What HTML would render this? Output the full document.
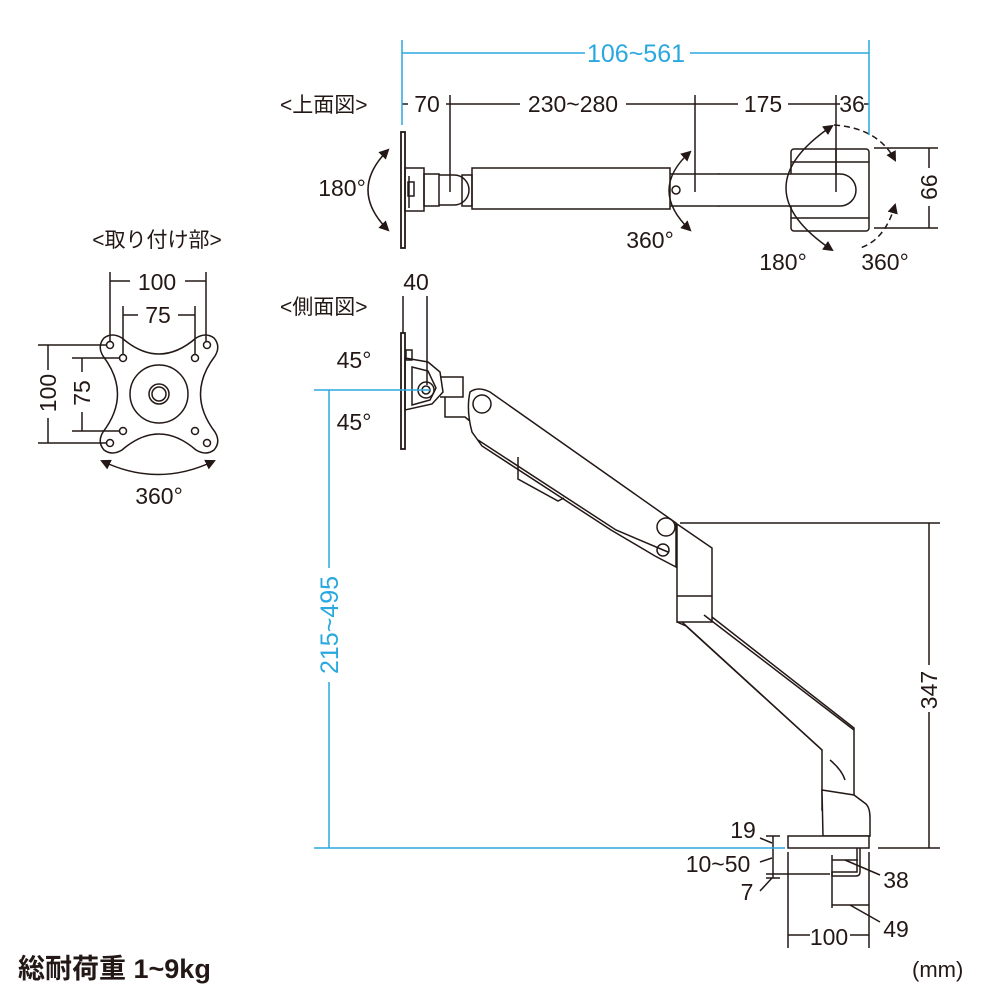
<!DOCTYPE html>
<html><head><meta charset="utf-8"><style>
html,body{margin:0;padding:0;background:#fff}
svg{display:block}
text{font-family:"Liberation Sans","Noto Sans CJK JP",sans-serif;fill:#231815}
.j{font-family:"Liberation Sans","Noto Sans CJK JP",sans-serif}
</style></head><body>
<svg width="1000" height="1000" viewBox="0 0 1000 1000" xmlns="http://www.w3.org/2000/svg">
<defs>
<marker id="a" viewBox="0 0 10 10" refX="8" refY="5" markerWidth="7" markerHeight="7" orient="auto-start-reverse"><path d="M0,0L10,5L0,10z" fill="#231815"/></marker>
</defs>
<g stroke="#231815" stroke-width="1.5" fill="none">
<line x1="402" y1="104" x2="408" y2="104"/><line x1="446" y1="104" x2="520" y2="104"/><line x1="626" y1="104" x2="738" y2="104"/><line x1="788" y1="104" x2="840" y2="104"/><line x1="864" y1="104" x2="869" y2="104"/>
<line x1="450" y1="95" x2="450" y2="192"/><line x1="695" y1="95" x2="695" y2="192"/><line x1="836" y1="95" x2="836" y2="192"/>
<rect x="401" y="132" width="4" height="116" fill="#fff" stroke-width="1.8"/>
<rect x="405" y="168" width="19" height="43"/>
<path d="M409,176 v32" /><rect x="408" y="182" width="6" height="14"/>
<rect x="424" y="174" width="15" height="32"/>
<path d="M439,175 h15 a15,15 0 0 1 0,30 h-15"/>
<rect x="462" y="175" width="10" height="31"/>
<rect x="472" y="168" width="198" height="41"/>
<path d="M670,174 h48 a16,16 0 0 1 0,32 h-48"/>
<rect x="791" y="149" width="78" height="82" rx="3"/>
<line x1="791" y1="162" x2="869" y2="162"/><line x1="791" y1="218" x2="869" y2="218"/>
<path d="M718,174 h122 a16,16 0 0 1 0,32 h-122" fill="#fff"/>
<circle cx="676" cy="190" r="4"/>
<line x1="836" y1="150" x2="836" y2="192"/>
<line x1="874" y1="148" x2="938" y2="148"/><line x1="874" y1="228" x2="938" y2="228"/>
<line x1="929" y1="148" x2="929" y2="168"/><line x1="929" y1="206" x2="929" y2="228"/>
<path d="M388,150 Q348,190 388,230" marker-start="url(#a)" marker-end="url(#a)"/>
<path d="M690,152 Q648,190 690,230" marker-start="url(#a)" marker-end="url(#a)"/>
<path d="M832,126 Q740,188 832,250" marker-start="url(#a)" marker-end="url(#a)"/>
<path d="M834,125 Q878,128 895,160" stroke-dasharray="6,4" marker-end="url(#a)"/>
<path d="M895,205 Q885,240 860,248" stroke-dasharray="6,4" marker-start="url(#a)"/>
<path d="M104,338 Q112,332 122,338 Q159,370 196,338 Q206,332 214,338 Q221,346 215,356 Q186,394 215,432 Q221,442 214,450 Q206,456 196,450 Q159,418 122,450 Q112,456 104,450 Q97,442 103,432 Q132,394 103,356 Q97,346 104,338z"/>
<circle cx="110" cy="345" r="3.5"/><circle cx="207" cy="345" r="3.5"/><circle cx="110" cy="443" r="3.5"/><circle cx="207" cy="443" r="3.5"/>
<circle cx="123" cy="358" r="3.5"/><circle cx="195" cy="358" r="3.5"/><circle cx="123" cy="431" r="3.5"/><circle cx="195" cy="431" r="3.5"/>
<circle cx="159" cy="394" r="29"/><circle cx="159" cy="394" r="10"/><circle cx="159" cy="394" r="7"/>
<line x1="110" y1="272" x2="110" y2="341"/><line x1="206" y1="272" x2="206" y2="341"/>
<line x1="110" y1="281" x2="130" y2="281"/><line x1="185" y1="281" x2="206" y2="281"/>
<line x1="123" y1="306" x2="123" y2="354"/><line x1="195" y1="306" x2="195" y2="354"/>
<line x1="123" y1="315" x2="138" y2="315"/><line x1="178" y1="315" x2="195" y2="315"/>
<line x1="38" y1="345" x2="106" y2="345"/><line x1="38" y1="443" x2="106" y2="443"/>
<line x1="48" y1="345" x2="48" y2="370"/><line x1="48" y1="418" x2="48" y2="443"/>
<line x1="72" y1="358" x2="119" y2="358"/><line x1="72" y1="431" x2="119" y2="431"/>
<line x1="82" y1="358" x2="82" y2="372"/><line x1="82" y1="412" x2="82" y2="431"/>
<path d="M102,461 Q158,488 214,461" marker-start="url(#a)" marker-end="url(#a)"/>
<line x1="403" y1="296" x2="403" y2="335"/><line x1="427" y1="296" x2="427" y2="385"/>
<rect x="401" y="333" width="4" height="116" fill="#fff" stroke-width="1.8"/>
<rect x="406" y="350" width="6" height="10"/>
<path d="M405,358 L428,362 L440,372 L443,392 L432,404 L405,410z"/>
<path d="M412,367 L428,371 L436,388 L430,400 L412,405z"/>
<circle cx="426" cy="390" r="8"/><circle cx="426" cy="390" r="4"/>
<path d="M440,377 h23 v20 h-23"/>
<path d="M445,397 v20 h20 l12,10"/>
<path d="M470,392 Q478,386 490,392 L676,523 L676,567 L655,556 L611,530 L482,446 L472,432 Q466,410 470,392z" fill="#fff"/>
<path d="M478,440 L616,530 L668,552"/>
<circle cx="482" cy="404" r="9"/>
<path d="M518,457 v22 l40,22 l6,-3"/>
<circle cx="666" cy="527" r="9"/><circle cx="663" cy="550" r="6"/>
<path d="M677,524 L712,548 L712,622 L677,622z" fill="#fff"/>
<line x1="677" y1="596" x2="712" y2="596"/>
<path d="M712,617 L854,728 L854,810 L822,810 L822,750 L686,626 L677,622 v0"/>
<path d="M682,622 L822,750"/>
<path d="M704,615 L854,730"/>
<path d="M830,760 Q842,770 845,780"/>
<path d="M822,790 L854,795 L866,804 Q870,808 870,818 L870,836 L823,836z" fill="#fff"/>
<rect x="788" y="836" width="81" height="12" fill="#fff"/>
<path d="M860,848 v24 q0,4 -4,4 h-24 v-4 h25 v-24"/>
<line x1="680" y1="523" x2="940" y2="523"/><line x1="878" y1="848" x2="940" y2="848"/>
<line x1="929" y1="523" x2="929" y2="665"/><line x1="929" y1="712" x2="929" y2="848"/>
<line x1="773" y1="836" x2="773" y2="878"/><line x1="766" y1="836" x2="780" y2="836"/>
<line x1="766" y1="874" x2="830" y2="874"/><line x1="766" y1="878" x2="780" y2="878"/>
<line x1="760" y1="838" x2="772" y2="843"/><line x1="760" y1="862" x2="772" y2="858"/><line x1="760" y1="891" x2="772" y2="878"/>
<line x1="788" y1="852" x2="788" y2="948"/><line x1="869" y1="852" x2="869" y2="948"/>
<line x1="832" y1="855" x2="832" y2="908"/>
<line x1="832" y1="860" x2="858" y2="860"/><line x1="832" y1="905" x2="869" y2="905"/>
<line x1="788" y1="935" x2="810" y2="935"/><line x1="850" y1="935" x2="869" y2="935"/>
<line x1="845" y1="860" x2="880" y2="875"/><line x1="850" y1="905" x2="880" y2="922"/>
</g>
<g stroke="#29a8e0" stroke-width="1.5" fill="none">
<line x1="402" y1="40" x2="402" y2="125"/><line x1="869" y1="40" x2="869" y2="135"/>
<line x1="402" y1="53" x2="585" y2="53"/><line x1="690" y1="53" x2="869" y2="53"/>
<line x1="314" y1="390" x2="430" y2="390"/>
<line x1="329" y1="390" x2="329" y2="568"/><line x1="329" y1="682" x2="329" y2="848"/>
<line x1="314" y1="848" x2="785" y2="848"/>
</g>
<text x="636" y="62" font-size="25" text-anchor="middle" style="fill:#29a8e0">106~561</text>
<text x="329" y="625" font-size="25" text-anchor="middle" transform="rotate(-90 329 625)" style="fill:#29a8e0" dy="9">215~495</text>
<g font-size="23" text-anchor="middle">
<text x="427" y="112">70</text><text x="573" y="112">230~280</text><text x="763" y="112">175</text><text x="852" y="112">36</text>
<text x="342" y="196">180°</text><text x="650" y="248">360°</text><text x="783" y="270">180°</text><text x="885" y="270">360°</text>
<text x="929" y="187" transform="rotate(90 929 187)" dy="8">99</text>
<text x="157" y="290">100</text><text x="158" y="323">75</text>
<text x="48" y="393" transform="rotate(-90 48 393)" dy="8">100</text>
<text x="82" y="393" transform="rotate(-90 82 393)" dy="8">75</text>
<text x="159" y="504">360°</text>
<text x="416" y="290">40</text>
<text x="354" y="368">45°</text><text x="354" y="430">45°</text>
<text x="929" y="690" transform="rotate(-90 929 690)" dy="8">347</text>
<text x="743" y="838">19</text><text x="718" y="872">10~50</text><text x="747" y="900">7</text>
<text x="896" y="888">38</text><text x="896" y="937">49</text><text x="829" y="945">100</text>
</g>
<g font-size="21" class="j">
<text x="280" y="112" class="j">&lt;上面図&gt;</text>
<text x="280" y="314" class="j">&lt;側面図&gt;</text>
<text x="157" y="247" text-anchor="middle" class="j">&lt;取り付け部&gt;</text>
</g>
<text x="18" y="978" font-size="27" font-weight="bold" class="j">総耐荷重 1~9kg</text>
<text x="912" y="977" font-size="22" style="font-family:'Liberation Sans',sans-serif">(mm)</text>
</svg>
</body></html>
